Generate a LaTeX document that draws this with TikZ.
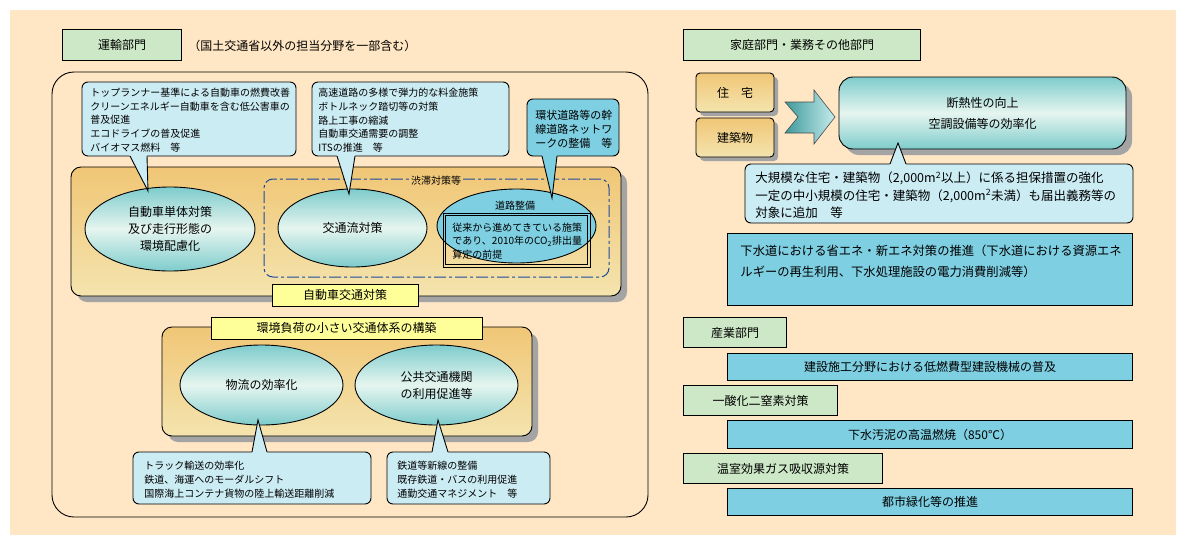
\documentclass[tikz,border=0pt]{standalone}
\usepackage{fontspec}
\setmainfont{Noto Sans CJK JP}
\usetikzlibrary{shapes.geometric,calc}
\definecolor{bgbeige}{HTML}{FFE6C4}
\definecolor{grn}{HTML}{CCE8C6}
\definecolor{lblue}{HTML}{CCECF4}
\definecolor{dblue}{HTML}{7ECFE2}
\definecolor{ylw}{HTML}{FFFF99}
\definecolor{orgtop}{HTML}{F0C676}
\definecolor{orgbot}{HTML}{F4E4AE}
\definecolor{teal1}{HTML}{7ECCCC}
\definecolor{teal2}{HTML}{E6F5EF}
\definecolor{shadowgray}{HTML}{A4A4A4}
\definecolor{dashblue}{HTML}{1A4A9E}
\definecolor{arrowdark}{HTML}{3E9A9C}
\definecolor{arrowlight}{HTML}{C6ECEC}
\newcommand{\fntL}{\fontsize{12}{17}\selectfont}
\newcommand{\fntS}{\fontsize{10}{13.7}\selectfont}
\newcommand{\mytail}[4]{%
  \fill[#1] ($#4!1.08!#2$) -- #4 -- ($#4!1.08!#3$) -- cycle;
  \draw #2 -- #4 -- #3;}
\begin{document}
\begin{tikzpicture}[x=1pt,y=-1pt,line width=0.9pt,
  secbox/.style={draw, line width=0.7pt, double=grn, double distance=2pt, fill=grn, inner sep=0, font=\fntL},
  bluebox/.style={draw, line width=0.7pt, double=dblue, double distance=2pt, fill=dblue, inner sep=0, font=\fntL},
  ylabel/.style={draw, fill=ylw, inner sep=0, font=\fntL},
  oval/.style={ellipse, draw, inner sep=0, top color=teal1, bottom color=teal1, middle color=teal2, align=center, font=\fntL},
  txt/.style={inner sep=0, align=left, anchor=north west},
  orangebox/.style={draw, rounded corners=10, top color=orgtop, bottom color=orgbot},
  smallbox/.style={draw, rounded corners=4, top color=orgtop, bottom color=orgbot, minimum width=78, minimum height=39, font=\fntL, inner sep=0},
  callout/.style={draw, rounded corners=6}
]
\useasboundingbox (0,0) rectangle (1186,546);
\fill[white] (0,0) rectangle (1186,546);
\fill[bgbeige] (10,10) rectangle (1176,535);

% ---------- left section ----------
\node[secbox, minimum width=116.6, minimum height=28.6] (transport) at (122,45) {運輸部門};
\node[anchor=west, inner sep=0, font=\fntL] (transnote) at (188,46) {（国土交通省以外の担当分野を一部含む）};
\node[draw, rounded corners=22, minimum width=596, minimum height=445, inner sep=0] (leftframe) at (350,294.5) {};

% orange box 1
\fill[shadowgray, rounded corners=10] (77,173) rectangle (627,302);
\draw[orangebox] (71,167) rectangle (621,296);
\draw[dashblue, line width=1pt, dash pattern=on 12pt off 3pt on 3pt off 3pt, rounded corners=9]
  (463,179) -- (609,179) -- (609,277) -- (264,277) -- (264,179) -- (409,179);
\node[inner sep=0, font=\fntS] (jam) at (436,181) {渋滞対策等};
\node[oval, minimum width=170, minimum height=84] (e1) at (170,229) {自動車単体対策\\及び走行形態の\\環境配慮化};
\node[oval, minimum width=149, minimum height=78] (e2) at (352.5,228) {交通流対策};
\node[ellipse, draw, fill=dblue, minimum width=159, minimum height=74, inner sep=0] (e3) at (516.5,226) {};
\node[inner sep=0, font=\fntS] (e3lbl) at (515,206) {道路整備};
\node[draw, line width=0.7pt, inner sep=0, minimum width=147, minimum height=54] (basis) at (516.5,240) {};
\draw[line width=0.7pt] ($(basis.north west)+(3,3)$) rectangle ($(basis.south east)+(-3,-3)$);
\node[txt, font=\fontsize{10}{13.5}\selectfont] (basistxt) at (452,222.5) {従来から進めてきている施策\\であり、2010年のCO\textsubscript{2}排出量\\算定の前提};
\node[ylabel, minimum width=146, minimum height=22] (autolbl) at (345,295) {自動車交通対策};

% orange box 2
\fill[shadowgray, rounded corners=10] (168,333) rectangle (538,442);
\draw[orangebox] (162,327) rectangle (532,436);
\node[ylabel, minimum width=271, minimum height=22] (envlbl) at (346.5,328) {環境負荷の小さい交通体系の構築};
\node[oval, minimum width=163, minimum height=80] (e4) at (261.5,385) {物流の効率化};
\node[oval, minimum width=163, minimum height=80] (e5) at (436.5,385) {公共交通機関\\の利用促進等};

% callouts (top)
\draw[callout, fill=lblue] (82,82) rectangle (296,156);
\mytail{lblue}{(130,156)}{(147,156)}{(148,191)}
\node[txt, font=\fntS] (c1) at (90,87.5) {トップランナー基準による自動車の燃費改善\\クリーンエネルギー自動車を含む低公害車の\\普及促進\\エコドライブの普及促進\\バイオマス燃料　等};
\draw[callout, fill=lblue] (312,82) rectangle (509,156);
\mytail{lblue}{(337,156)}{(355,156)}{(349,194)}
\node[txt, font=\fntS] (c2) at (318,88) {高速道路の多様で弾力的な料金施策\\ボトルネック踏切等の対策\\路上工事の縮減\\自動車交通需要の調整\\ITSの推進　等};
\draw[callout, fill=dblue] (527,99) rectangle (619,156);
\mytail{dblue}{(542,156)}{(557,156)}{(552,198)}
\node[txt, font=\fontsize{11}{14}\selectfont] (c3) at (535,110) {環状道路等の幹\\線道路ネットワ\\ークの整備　等};

% callouts (bottom)
\draw[callout, fill=lblue] (133,452) rectangle (371,504);
\mytail{lblue}{(252,452)}{(267,452)}{(258,420)}
\node[txt, font=\fontsize{10}{14}\selectfont] (bc1) at (144,460.5) {トラック輸送の効率化\\鉄道、海運へのモーダルシフト\\国際海上コンテナ貨物の陸上輸送距離削減};
\draw[callout, fill=lblue] (387,452) rectangle (550,504);
\mytail{lblue}{(432,452)}{(448,452)}{(438,420)}
\node[txt, font=\fontsize{10}{14}\selectfont] (bc2) at (397,460.5) {鉄道等新線の整備\\既存鉄道・バスの利用促進\\通勤交通マネジメント　等};

% ---------- right section ----------
\node[secbox, minimum width=234.6, minimum height=28.6] (home) at (802,45) {家庭部門・業務その他部門};
\fill[shadowgray, rounded corners=4] (700,77) rectangle (778,116);
\node[smallbox] (house) at (735,92.5) {住　宅};
\fill[shadowgray, rounded corners=4] (700,122) rectangle (778,161);
\node[smallbox] (bldg) at (735,137.5) {建築物};
\draw[left color=arrowdark, right color=arrowlight, draw=black!70, line width=0.6pt]
  (785,102) -- (814,102) -- (814,90) -- (835,117) -- (814,144) -- (814,133) -- (785,133) -- (798,117) -- cycle;
\fill[shadowgray, rounded corners=14] (845,83) rectangle (1132,155);
\node[draw, rounded corners=14, top color=teal1, bottom color=teal1, middle color=teal2, minimum width=287, minimum height=72, align=center, font=\fontsize{12}{21}\selectfont, inner sep=0] (insul) at (982.5,113) {断熱性の向上\\空調設備等の効率化};
\draw[callout, fill=lblue] (745,164) rectangle (1133,223);
\mytail{lblue}{(890,164)}{(906,164)}{(898,143)}
\node[txt, font=\fontsize{12.5}{17.5}\selectfont] (rc) at (755,171.5) {大規模な住宅・建築物（2,000m\textsuperscript{2}以上）に係る担保措置の強化\\一定の中小規模の住宅・建築物（2,000m\textsuperscript{2}未満）も届出義務等の\\対象に追加　等};

\node[bluebox, minimum width=402.6, minimum height=69.6] (sewer) at (930,269.5) {};
\node[txt, font=\fontsize{12.3}{21}\selectfont] (sewertxt) at (740,244.5) {下水道における省エネ・新エネ対策の推進（下水道における資源エネ\\ルギーの再生利用、下水処理施設の電力消費削減等）};
\node[secbox, minimum width=100.6, minimum height=27.6] (industry) at (735,332.5) {産業部門};
\node[bluebox, minimum width=402.6, minimum height=24.6] (machine) at (930,367) {建設施工分野における低燃費型建設機械の普及};
\node[secbox, minimum width=151.6, minimum height=27.6] (ntwoo) at (760.5,400.5) {一酸化二窒素対策};
\node[bluebox, minimum width=402.6, minimum height=25.6] (sludge) at (930,434.5) {下水汚泥の高温燃焼（850℃）};
\node[secbox, minimum width=196.6, minimum height=27.6] (sink) at (783,468.5) {温室効果ガス吸収源対策};
\node[bluebox, minimum width=402.6, minimum height=24.6] (urbangreen) at (930,502) {都市緑化等の推進};
\end{tikzpicture}
\end{document}
